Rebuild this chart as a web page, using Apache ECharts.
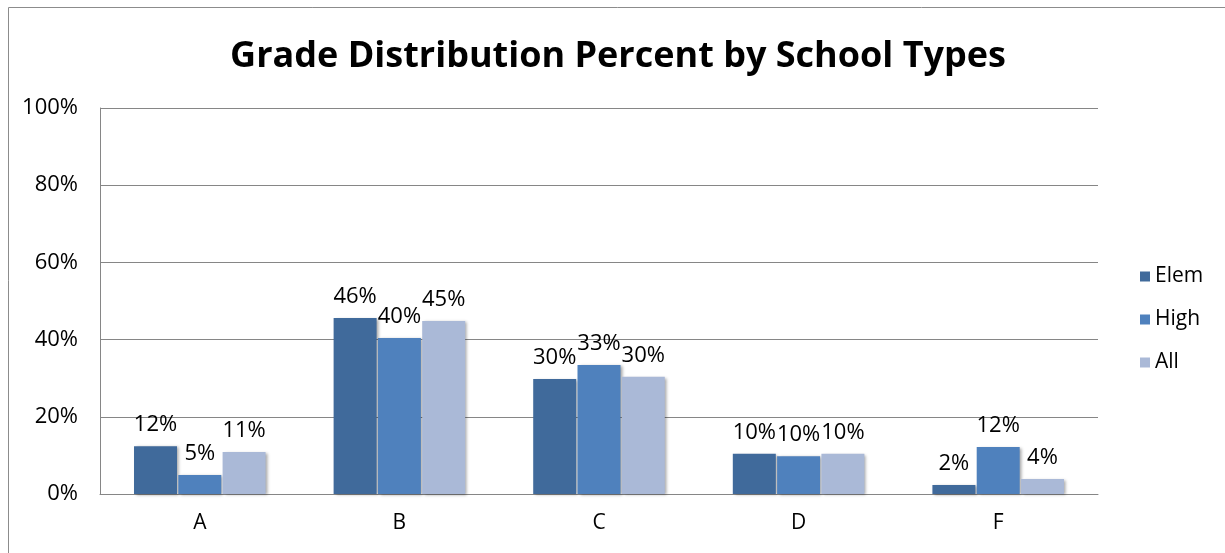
<!DOCTYPE html>
<html><head><meta charset="utf-8">
<script src="https://cdn.jsdelivr.net/npm/echarts@6/dist/echarts.min.js"></script>
<style>html,body{margin:0;padding:0;background:#fff}#c{width:1225px;height:553px}</style>
</head><body><div id="c"></div>
<script>
const categories = ['A','B','C','D','F'];
const elem = [12.4, 45.6, 29.8, 10.4, 2.3];
const high = [4.9, 40.4, 33.4, 9.8, 12.2];
const all = [10.9, 44.8, 30.4, 10.4, 3.9];
const yTicks = [0, 20, 40, 60, 80, 100];
const seriesNames = ['Elem','High','All'];
const colors = ['#406A9B','#4F81BD','#AAB9D7'];

const chart = echarts.init(document.getElementById('c'));
const font = 'Open Sans';
function mk(name, data, color){
  return {
    name, type:'bar', data, barWidth:43, barGap:'3%',
    itemStyle:{color, shadowBlur:3, shadowOffsetX:2, shadowOffsetY:1, shadowColor:'rgba(0,0,0,0.35)'},
    label:{show:true, position:'top', distance:10, fontFamily:font, fontSize:22, color:'#000',
      formatter:p=>Math.round(p.value)+'%'}
  };
}
chart.setOption({
  animation:false,
  title:{text:'Grade Distribution Percent by School Types', left:613, top:34, textAlign:'center',
    textStyle:{fontFamily:font, fontWeight:'bold', fontSize:36, color:'#000'}},
  graphic:[{type:'rect', shape:{x:8.5,y:7.5,width:1240,height:560}, style:{fill:'none', stroke:'#8c8c8c', lineWidth:1}}],
  legend:{orient:'vertical', left:1135, top:261, itemWidth:10, itemHeight:10, itemGap:22, icon:'rect',
    textStyle:{fontFamily:font, fontSize:21, color:'#000'}, data:seriesNames},
  grid:{left:100, right:127, top:108, bottom:59},
  xAxis:{type:'category', data:categories,
    axisLine:{lineStyle:{color:'#868686'}}, axisTick:{show:false},
    axisLabel:{fontFamily:font, fontSize:21, color:'#000', margin:19}},
  yAxis:{type:'value', min:0, max:100, interval:20,
    axisLine:{show:true, lineStyle:{color:'#868686'}}, axisTick:{show:false},
    splitLine:{lineStyle:{color:'#868686'}},
    axisLabel:{fontFamily:font, fontSize:22, color:'#000', margin:22, formatter:v=>v+'%'}},
  series:[mk(seriesNames[0], elem, colors[0]), mk(seriesNames[1], high, colors[1]), mk(seriesNames[2], all, colors[2])]
});
</script></body></html>
